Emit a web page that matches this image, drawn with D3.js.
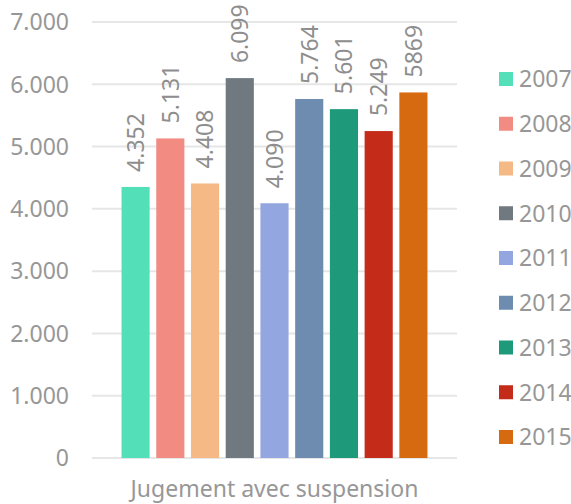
<!DOCTYPE html>
<html>
<head>
<meta charset="utf-8">
<script src="https://cdn.jsdelivr.net/npm/d3@7"></script>
<style>
  body { margin: 0; background: #fff; }
  svg { display: block; font-family: "Noto Sans", sans-serif; }
</style>
</head>
<body>
<svg width="571" height="504"></svg>
<script>
var width = 571;
var height = 504;

// data
var years = ["2007", "2008", "2009", "2010", "2011", "2012", "2013", "2014", "2015"];
var values = [4352, 5131, 4408, 6099, 4090, 5764, 5601, 5249, 5869];
var value_labels = ["4.352", "5.131", "4.408", "6.099", "4.090", "5.764", "5.601", "5.249", "5869"];
var colors = ["#53e0b9", "#f28b82", "#f5b985", "#707880", "#93a6e0", "#6d8cb0", "#1e9a7a", "#c42b19", "#d56a10"];
var y_ticks = [0, 1000, 2000, 3000, 4000, 5000, 6000, 7000];
var y_tick_labels = ["0", "1.000", "2.000", "3.000", "4.000", "5.000", "6.000", "7.000"];
var category = "Jugement avec suspension";

var text_color = "#979797";
var grid_color = "#e6e6e6";

const svg = d3.select("svg");

var x = d3.scaleBand()
    .domain(years)
    .range([92, 457])
    .paddingInner(0.19)
    .paddingOuter(0.85);

var y = d3.scaleLinear()
    .domain([0, 7000])
    .range([458, 22]);

// gridlines
svg.append("g")
    .selectAll("line")
    .data(y_ticks)
    .enter().append("line")
      .attr("x1", 92)
      .attr("x2", 457)
      .attr("y1", function(d) { return y(d); })
      .attr("y2", function(d) { return y(d); })
      .attr("stroke", grid_color)
      .attr("stroke-width", 2);

// y axis labels
svg.append("g")
    .selectAll("text")
    .data(y_ticks)
    .enter().append("text")
      .attr("x", 69)
      .attr("y", function(d) { return y(d); })
      .attr("dy", "0.36em")
      .attr("text-anchor", "end")
      .attr("fill", text_color)
      .style("font-size", "23px")
      .text(function(d, i) { return y_tick_labels[i]; });

// bars
svg.append("g")
    .selectAll("rect")
    .data(values)
    .enter().append("rect")
      .attr("x", function(d, i) { return x(years[i]); })
      .attr("width", x.bandwidth())
      .attr("y", function(d) { return y(d); })
      .attr("height", function(d) { return y(0) - y(d); })
      .attr("fill", function(d, i) { return colors[i]; });

// value labels, rotated
svg.append("g")
    .selectAll("text")
    .data(values)
    .enter().append("text")
      .attr("transform", function(d, i) {
          var cx = x(years[i]) + x.bandwidth() / 2;
          return "translate(" + cx + "," + (y(d) - 15) + ") rotate(-90)";
      })
      .attr("dy", "0.36em")
      .attr("text-anchor", "start")
      .attr("fill", "#8e8e8e")
      .style("font-size", "23px")
      .text(function(d, i) { return value_labels[i]; });

// x axis category label
svg.append("text")
    .attr("x", (x.range()[0] + x.range()[1]) / 2)
    .attr("y", 497)
    .attr("text-anchor", "middle")
    .attr("fill", text_color)
    .style("font-size", "23px")
    .text(category);

// legend
var legend = svg.append("g")
    .selectAll("g")
    .data(years)
    .enter().append("g")
      .attr("transform", function(d, i) { return "translate(499," + (79 + i * 44.75) + ")"; });

legend.append("rect")
    .attr("x", 0)
    .attr("y", -7)
    .attr("width", 14)
    .attr("height", 14)
    .attr("fill", function(d, i) { return colors[i]; });

legend.append("text")
    .attr("x", 20)
    .attr("y", 0)
    .attr("dy", "0.36em")
    .attr("fill", text_color)
    .style("font-size", "23px")
    .text(function(d) { return d; });
</script>
</body>
</html>
